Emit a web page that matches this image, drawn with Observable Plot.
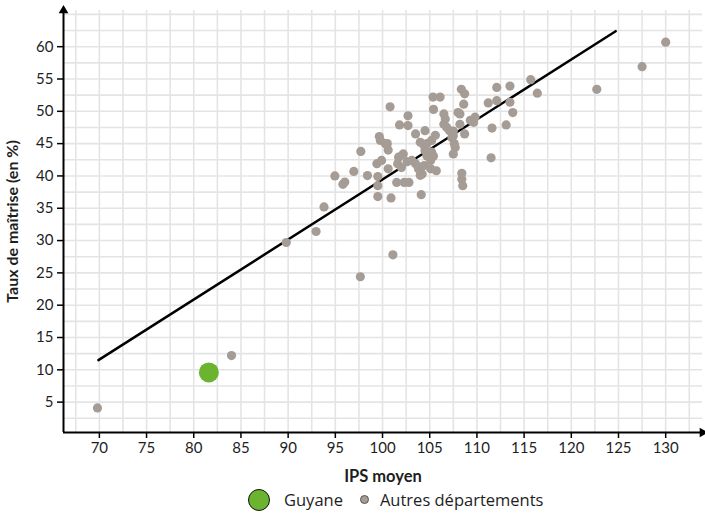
<!DOCTYPE html>
<html>
<head>
<meta charset="utf-8">
<script src="https://cdn.jsdelivr.net/npm/d3@7"></script>
<script src="https://cdn.jsdelivr.net/npm/@observablehq/plot@0.6"></script>
<style>
  html, body { margin: 0; padding: 0; background: #fff; }
  body { width: 705px; height: 514px; overflow: hidden; font-family: "Lato", "Noto Sans", sans-serif; color: #1e1e1e; }
  #legend { position: relative; height: 29px; display: flex; align-items: center; padding-left: 248px; font-size: 16.5px; font-family: "Open Sans", sans-serif; }
  .sw { display: inline-block; border-radius: 50%; box-sizing: border-box; flex: none; }
</style>
</head>
<body>
<div id="chart"></div>
<div id="legend">
  <span class="sw" style="width:22px;height:22px;background:#6ab42f;border:1.5px solid #111;"></span>
  <span style="margin-left:14px;">Guyane</span>
  <span class="sw" style="width:9px;height:9px;background:#a69c96;border:1px solid #555;margin-left:17px;"></span>
  <span style="margin-left:11px;">Autres départements</span>
</div>
<script>
// Autres départements
const ipsAutres = [69.8, 84.0, 89.8, 92.96, 93.8, 94.95, 95.8, 96.0, 96.96, 97.7, 97.65, 98.4, 99.4, 99.5, 99.5, 99.5, 99.66, 99.77, 99.9, 100.5, 100.6, 100.8, 100.9, 100.6, 101.1, 101.5, 101.7, 101.8, 102.0, 102.2, 102.3, 102.7, 102.7, 102.8, 103.1, 103.5, 103.5, 103.8, 104.0, 104.1, 104.2, 104.5, 104.5, 104.7, 105.1, 105.2, 105.35, 105.4, 105.6, 105.7, 105.2, 106.1, 106.5, 106.65, 106.5, 106.8, 107.1, 107.5, 107.6, 107.5, 108.0, 108.2, 108.2, 108.35, 108.7, 108.6, 108.7, 108.4, 108.4, 108.5, 109.3, 109.8, 109.65, 111.2, 112.1, 112.1, 111.5, 111.6, 113.1, 113.5, 113.5, 113.8, 115.7, 116.4, 122.7, 127.5, 130.0, 102.1, 101.6, 102.6, 104.0, 104.4, 105.4, 104.7, 107.35, 107.7, 107.5, 100.3, 104.4, 105.1];
const tauxAutres = [4.1, 12.2, 29.7, 31.4, 35.2, 40.0, 38.7, 39.05, 40.7, 43.8, 24.4, 40.05, 41.9, 39.9, 38.5, 36.8, 46.1, 45.5, 42.4, 45.0, 44.0, 50.7, 36.6, 41.1, 27.8, 39.0, 42.9, 47.9, 41.3, 43.4, 39.0, 47.8, 49.3, 39.0, 42.4, 41.9, 46.5, 41.1, 40.1, 37.1, 40.3, 47.0, 43.9, 45.0, 42.4, 45.5, 52.2, 50.3, 46.3, 40.8, 43.7, 52.2, 49.6, 48.8, 48.0, 47.5, 47.0, 46.2, 45.0, 43.4, 49.8, 49.6, 48.0, 53.4, 52.7, 51.1, 46.5, 40.4, 39.5, 38.5, 48.6, 49.1, 48.3, 51.3, 53.7, 51.65, 42.8, 47.4, 47.9, 53.9, 51.4, 49.8, 54.9, 52.8, 53.4, 56.9, 60.7, 43.2, 41.9, 42.2, 45.2, 44.7, 43.1, 43.1, 45.9, 44.4, 46.95, 45.0, 41.6, 41.1];
// Guyane
const ipsGuyane = [81.6];
const tauxGuyane = [9.6];
// Droite de tendance (extrémités)
const trendIps = [69.9, 124.7];
const trendTaux = [11.5, 62.4];
// Graduations
const xTicks = [70, 75, 80, 85, 90, 95, 100, 105, 110, 115, 120, 125, 130];
const yTicks = [5, 10, 15, 20, 25, 30, 35, 40, 45, 50, 55, 60];
const xGrid = [67.5, 70, 72.5, 75, 77.5, 80, 82.5, 85, 87.5, 90, 92.5, 95, 97.5, 100, 102.5, 105, 107.5, 110, 112.5, 115, 117.5, 120, 122.5, 125, 127.5, 130, 132.5];
const yGrid = [2.5, 5, 7.5, 10, 12.5, 15, 17.5, 20, 22.5, 25, 27.5, 30, 32.5, 35, 37.5, 40, 42.5, 45, 47.5, 50, 52.5, 55, 57.5, 60, 62.5, 65];

const xDomain = [66.2, 133.9];
const yDomain = [0.3, 65.6];

const autres = ipsAutres.map((v, i) => ({ips: v, taux: tauxAutres[i]}));
const guyane = ipsGuyane.map((v, i) => ({ips: v, taux: tauxGuyane[i]}));
const trend = trendIps.map((v, i) => ({ips: v, taux: trendTaux[i]}));

const chart = Plot.plot({
  width: 705,
  height: 485,
  marginLeft: 63,
  marginRight: 3,
  marginTop: 10,
  marginBottom: 53,
  style: {fontFamily: "Lato, 'Noto Sans', sans-serif", fontSize: "15px", color: "#1e1e1e", background: "#fff"},
  x: {domain: xDomain},
  y: {domain: yDomain},
  marks: [
    Plot.ruleX(xGrid, {stroke: "#e4e4e4", strokeWidth: 1.6}),
    Plot.ruleY(yGrid, {stroke: "#e4e4e4", strokeWidth: 1.6}),
    Plot.axisX({ticks: xTicks, tickSize: 6, tickPadding: 4, strokeWidth: 1.5, stroke: "#000", label: null}),
    Plot.axisX({ticks: [], label: "IPS moyen", labelAnchor: "center", labelArrow: "none", labelOffset: 49, fontSize: 16.5}),
    Plot.axisY({ticks: yTicks, tickSize: 6, tickPadding: 4, strokeWidth: 1.5, stroke: "#000", label: null}),
    Plot.axisY({ticks: [], label: "Taux de maîtrise (en %)", labelAnchor: "center", labelArrow: "none", labelOffset: 57, fontSize: 16}),
    Plot.line(trend, {x: "ips", y: "taux", stroke: "#000", strokeWidth: 2.5}),
    Plot.dot(autres, {x: "ips", y: "taux", r: 4.6, fill: "#a69c96", stroke: "none"}),
    Plot.dot(guyane, {x: "ips", y: "taux", r: 10, fill: "#6ab42f", stroke: "none"}),
    Plot.ruleY([yDomain[0]], {stroke: "#000", strokeWidth: 2}),
    Plot.ruleX([xDomain[0]], {stroke: "#000", strokeWidth: 2}),
    Plot.dot([{x: xDomain[1], y: yDomain[0]}], {x: "x", y: "y", symbol: "triangle", rotate: 90, r: 3.6, fill: "#000", stroke: "none"}),
    Plot.dot([{x: xDomain[0], y: yDomain[1]}], {x: "x", y: "y", symbol: "triangle", r: 3.6, fill: "#000", stroke: "none"})
  ]
});
chart.querySelectorAll('g[aria-label="x-axis label"] text, g[aria-label="y-axis label"] text').forEach(t => t.setAttribute("font-weight", "bold"));
document.getElementById("chart").appendChild(chart);
</script>
</body>
</html>
